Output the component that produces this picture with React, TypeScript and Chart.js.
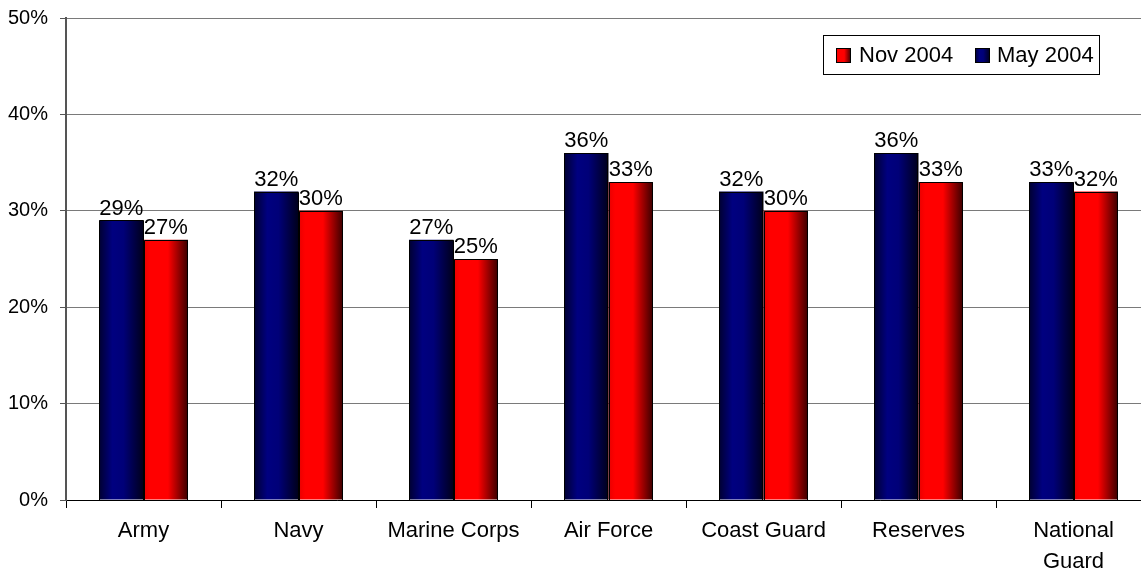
import React, { useEffect, useRef } from "react";
import { Chart, registerables } from "chart.js";

Chart.register(...registerables);

const categories: (string | string[])[] = [
  "Army",
  "Navy",
  "Marine Corps",
  "Air Force",
  "Coast Guard",
  "Reserves",
  ["National", "Guard"],
];
const may2004 = [29, 32, 27, 36, 32, 36, 33];
const nov2004 = [27, 30, 25, 33, 30, 33, 32];
const seriesNames = ["May 2004", "Nov 2004"];
const yTicks = [0, 10, 20, 30, 40, 50];

const FONT = "'Liberation Sans', Arial, sans-serif";
const CAT_PCT = 0.574;

function fillStops(g: CanvasGradient, which: number) {
  if (which === 0) {
    g.addColorStop(0, "#000030");
    g.addColorStop(0.3, "#000080");
    g.addColorStop(0.55, "#000078");
    g.addColorStop(1, "#00001a");
  } else {
    g.addColorStop(0, "#e80000");
    g.addColorStop(0.15, "#ff0000");
    g.addColorStop(0.55, "#ff0000");
    g.addColorStop(1, "#3a0000");
  }
  return g;
}

function barFill(which: number) {
  return (ctx: any) => {
    const chart = ctx.chart;
    const xs = chart.scales && chart.scales.x;
    const fallback = which === 0 ? "#000080" : "#ff0000";
    if (!xs || ctx.type !== "data" || !xs.width) return fallback;
    const cat = xs.width / categories.length;
    const bw = (cat * CAT_PCT) / 2;
    const center = xs.getPixelForValue(ctx.dataIndex);
    const left = which === 0 ? center - bw : center;
    const g = chart.ctx.createLinearGradient(left, 0, left + bw, 0);
    return fillStops(g, which);
  };
}

const labelPlugin = {
  id: "valueLabels",
  afterDatasetsDraw(chart: any) {
    const c = chart.ctx;
    c.save();
    // crisp black outlines
    c.strokeStyle = "#000";
    c.lineWidth = 1;
    chart.data.datasets.forEach((_ds: any, di: number) => {
      const meta = chart.getDatasetMeta(di);
      meta.data.forEach((bar: any) => {
        const p = bar.getProps(["x", "y", "base", "width"], true);
        const l = Math.round(p.x - p.width / 2) + 0.5;
        const r = Math.round(p.x + p.width / 2) - 0.5;
        const t = Math.round(p.y) + 0.5;
        const b = Math.round(p.base);
        c.beginPath();
        c.moveTo(l, b);
        c.lineTo(l, t);
        c.lineTo(r, t);
        c.lineTo(r, b);
        c.stroke();
      });
    });
    c.font = `22px ${FONT}`;
    c.fillStyle = "#000";
    c.textAlign = "center";
    c.textBaseline = "bottom";
    chart.data.datasets.forEach((ds: any, di: number) => {
      const meta = chart.getDatasetMeta(di);
      meta.data.forEach((bar: any, i: number) => {
        c.fillText(`${ds.data[i]}%`, bar.x, bar.y - 1);
      });
    });
    c.restore();
  },
};

const legendPlugin = {
  id: "boxLegend",
  afterDraw(chart: any) {
    const c = chart.ctx;
    c.save();
    const bx = 823.5, by = 35.5, bw = 276, bh = 39;
    c.fillStyle = "#fff";
    c.fillRect(bx, by, bw, bh);
    c.strokeStyle = "#000";
    c.lineWidth = 1;
    c.strokeRect(bx, by, bw, bh);
    const items = [
      { name: seriesNames[1], which: 1, sx: 836, tx: 859 },
      { name: seriesNames[0], which: 0, sx: 975, tx: 997 },
    ];
    c.font = `22px ${FONT}`;
    c.textBaseline = "middle";
    c.textAlign = "left";
    items.forEach((it) => {
      const g = c.createLinearGradient(it.sx, 0, it.sx + 15, 0);
      fillStops(g, it.which);
      c.fillStyle = g;
      c.fillRect(it.sx, 48, 15, 15);
      c.strokeStyle = "#000";
      c.strokeRect(it.sx + 0.5, 48.5, 14, 14);
      c.fillStyle = "#000";
      c.fillText(it.name, it.tx, 56);
    });
    c.restore();
  },
};

export default function App() {
  const ref = useRef<HTMLCanvasElement | null>(null);
  useEffect(() => {
    if (!ref.current) return;
    const chart = new Chart(ref.current, {
      type: "bar",
      data: {
        labels: categories as any,
        datasets: [
          {
            label: seriesNames[0],
            data: may2004,
            backgroundColor: barFill(0) as any,
            borderWidth: 0,
            categoryPercentage: CAT_PCT,
            barPercentage: 1,
          },
          {
            label: seriesNames[1],
            data: nov2004,
            backgroundColor: barFill(1) as any,
            borderWidth: 0,
            categoryPercentage: CAT_PCT,
            barPercentage: 1,
          },
        ],
      },
      options: {
        responsive: false,
        animation: false,
        devicePixelRatio: 1,
        layout: { padding: { top: 18, right: 1, left: 0, bottom: 0 } },
        plugins: {
          legend: { display: false },
          tooltip: { enabled: false },
          title: { display: false },
        },
        scales: {
          x: {
            offset: true,
            grid: {
              display: true,
              offset: true,
              drawOnChartArea: false,
              drawTicks: true,
              tickLength: 8,
              color: "#000",
            },
            border: { display: true, color: "#000", width: 1 },
            ticks: {
              color: "#000",
              font: { family: FONT, size: 22, lineHeight: 1.41 },
              padding: 7,
              maxRotation: 0,
              autoSkip: false,
            },
            afterFit(scale: any) {
              scale.height = 70;
              scale.paddingLeft = 0;
              scale.paddingRight = 0;
            },
          },
          y: {
            min: 0,
            max: 50,
            afterBuildTicks(scale: any) {
              scale.ticks = yTicks.map((v) => ({ value: v }));
            },
            grid: {
              color: "#7a7a7a",
              drawTicks: true,
              tickLength: 6,
              tickColor: "#555",
            },
            border: { display: true, color: "#555", width: 2 },
            ticks: {
              color: "#000",
              font: { family: FONT, size: 20 },
              padding: 12,
              callback: (v: any) => `${v}%`,
            },
            afterFit(scale: any) {
              scale.width = 66;
              scale.paddingTop = 0;
              scale.paddingBottom = 0;
            },
          },
        },
      },
      plugins: [labelPlugin, legendPlugin],
    });
    return () => chart.destroy();
  }, []);
  return (
    <div
      style={{
        position: "absolute",
        left: 0,
        top: 0,
        width: 1141,
        height: 570,
        overflow: "hidden",
        background: "#fff",
      }}
    >
      <canvas
        ref={ref}
        width={1152}
        height={570}
        style={{ display: "block", width: 1152, height: 570 }}
      />
    </div>
  );
}
